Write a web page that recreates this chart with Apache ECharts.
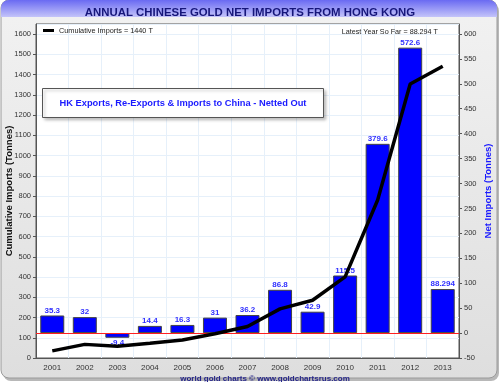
<!DOCTYPE html>
<html><head><meta charset="utf-8">
<script src="https://cdn.jsdelivr.net/npm/echarts@6/dist/echarts.min.js"></script>
<style>html,body{margin:0;padding:0;background:#fff}#c{width:500px;height:382px}</style>
</head><body><div id="c"></div>
<script>
var years = ['2001','2002','2003','2004','2005','2006','2007','2008','2009','2010','2011','2012','2013'];
var netImports = [35.3, 32, -9.4, 14.4, 16.3, 31, 36.2, 86.8, 42.9, 115.5, 379.6, 572.6, 88.294];
var cumulative = [35.3, 67.3, 57.9, 72.3, 88.6, 119.6, 155.8, 242.6, 285.5, 401, 780.6, 1353.2, 1441.5];
var titleText = 'ANNUAL CHINESE GOLD NET IMPORTS FROM HONG KONG';
var lineName = 'Cumulative Imports = 1440 T';
var latestText = 'Latest Year So Far = 88.294 T';
var boxText = 'HK Exports, Re-Exports & Imports to China - Netted Out';
var footerText = 'world gold charts \u00a9 www.goldchartsrus.com';
var leftName = 'Cumulative Imports (Tonnes)';
var rightName = 'Net Imports (Tonnes)';

var chart = echarts.init(document.getElementById('c'), null, {renderer:'canvas'});
var font = 'Liberation Sans, Arial, sans-serif';
function plain(v){ return String(v); }
chart.setOption({
  animation:false,
  textStyle:{fontFamily:font},
  graphic:[
    {type:'rect', z:-10, shape:{x:3,y:3,width:496,height:378,r:8}, style:{fill:'#b8b8b8'}},
    {type:'rect', z:-9, shape:{x:1,y:0,width:496,height:378,r:8},
      style:{fill:new echarts.graphic.LinearGradient(0,0,0,1,[{offset:0,color:'#f2f2f2'},{offset:1,color:'#dedede'}]), stroke:'#9a9a9a', lineWidth:1}},
    {type:'rect', z:-8, shape:{x:1,y:0,width:496,height:17,r:[8,8,0,0]},
      style:{fill:new echarts.graphic.LinearGradient(0,0,0,1,[{offset:0,color:'#6a6af2'},{offset:1,color:'#c4c4fa'}])}},
    {type:'rect', z:50, shape:{x:42.5,y:88.5,width:281,height:29}, style:{fill:'#fff', stroke:'#555', lineWidth:1, shadowBlur:3, shadowOffsetX:2, shadowOffsetY:2, shadowColor:'rgba(0,0,0,0.25)'}},
    {type:'text', z:51, x:183, y:103, style:{text:boxText, fill:'#1a1aff', font:'bold 9.3px '+font, align:'center', verticalAlign:'middle'}}
  ],
  title:[
    {text:titleText, left:'center', top:2, textStyle:{fontSize:11.4, fontWeight:'bold', color:'#16167a', fontFamily:font}},
    {text:latestText, right:57, top:24, textStyle:{fontSize:7.2, fontWeight:'normal', color:'#222', fontFamily:font}},
    {text:footerText, left:260, textAlign:'center', top:370, textStyle:{fontSize:8, fontWeight:'bold', color:'#26268a', fontFamily:font}}
  ],
  legend:{left:38, top:22, itemWidth:11, itemHeight:3, itemGap:6,
    data:[{name:lineName, icon:'rect'}],
    textStyle:{fontSize:7.3, color:'#222', fontFamily:font, padding:[0,0,0,0]}},
  grid:{left:36, right:41, top:24, bottom:24, containLabel:false, outerBoundsMode:'none',
    show:true, borderColor:'#555', borderWidth:1, backgroundColor:'#fff'},
  xAxis:{type:'category', data:years, boundaryGap:true,
    axisLine:{lineStyle:{color:'#555'}},
    axisTick:{alignWithLabel:true, length:3, lineStyle:{color:'#555'}},
    axisLabel:{fontSize:8, color:'#333', margin:6},
    splitLine:{show:true, lineStyle:{color:'#e6f0fa'}}},
  yAxis:[
    {type:'value', min:0, max:1650, interval:100, position:'left',
      name:leftName, nameLocation:'middle', nameGap:22, nameRotate:90, nameMoveOverlap:false,
      nameTextStyle:{fontSize:9.5, fontWeight:'bold', color:'#111', fontFamily:font},
      axisLine:{show:true, lineStyle:{color:'#555'}},
      axisTick:{show:true, length:3, lineStyle:{color:'#555'}},
      axisLabel:{fontSize:7.5, color:'#333', margin:5, showMaxLabel:false, formatter:plain},
      splitLine:{show:true, lineStyle:{color:'#e6f0fa'}}},
    {type:'value', min:-50, max:620, interval:50, position:'right',
      name:rightName, nameLocation:'middle', nameGap:24, nameRotate:90, nameMoveOverlap:false,
      nameTextStyle:{fontSize:9.5, fontWeight:'bold', color:'#1a1aff', fontFamily:font},
      axisLine:{show:true, lineStyle:{color:'#555'}},
      axisTick:{show:true, length:3, lineStyle:{color:'#555'}},
      axisLabel:{fontSize:7.5, color:'#333', margin:5, showMaxLabel:false, formatter:plain},
      splitLine:{show:false}}
  ],
  series:[
    {type:'bar', name:'Net Imports', yAxisIndex:1, barWidth:24,
      data:netImports.map(function(v){ return v < 0 ? {value:v, label:{position:'bottom', distance:1}} : v; }),
      itemStyle:{color:'#0000ff', borderColor:'#444', borderWidth:1},
      label:{show:true, position:'top', distance:1, fontSize:8, fontWeight:'bold', color:'#3030ff', fontFamily:font},
      markLine:{silent:true, symbol:'none', label:{show:false}, lineStyle:{color:'#ff2020', width:1, type:'solid'}, data:[{yAxis:0}]},
      z:2},
    {type:'line', name:lineName, yAxisIndex:0, data:cumulative, showSymbol:false, symbol:'none',
      lineStyle:{color:'#000', width:3.5}, itemStyle:{color:'#000'}, z:5}
  ]
});
</script></body></html>
